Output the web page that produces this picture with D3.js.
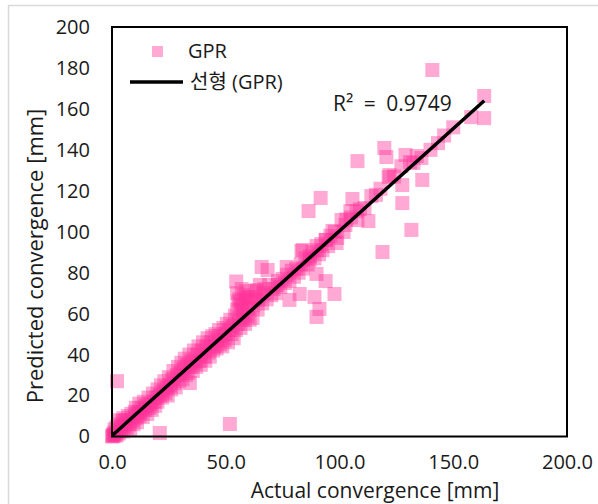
<!DOCTYPE html>
<html>
<head>
<meta charset="utf-8">
<script src="https://cdn.jsdelivr.net/npm/d3@7"></script>
<style>
  body { margin: 0; background: #fff; }
  svg { display: block; }
  text { font-family: "Open Sans", "Noto Sans CJK KR", sans-serif; fill: #1a1a1a; }
</style>
</head>
<body>
<svg id="chart" width="598" height="504"></svg>
<script>
// Tick values for both axes.
var xTicks = [0, 50, 100, 150, 200];
var yTicks = [0, 20, 40, 60, 80, 100, 120, 140, 160, 180, 200];

// Linear trend of GPR (Excel "선형") and its R².
var trendSlope = 1.0,
    trendIntercept = 0.4,
    trendRange = [0, 163.6],
    rSquared = '0.9749';

var legendLabels = ['GPR', '선형 (GPR)'];

// [actual, predicted] in mm.
var gprOutliers = [
    [2.2, 27], [21, 1.7], [51.8, 6.1], [34.2, 26.1], [140.8, 179]
];

var gprUpper = [
    [163.6, 166.3], [163.6, 155.5], [157.9, 156], [143.3, 143.3], [140, 140],
    [119.7, 140.9], [107.9, 134.5], [120.6, 136.5], [129, 137.5], [132.5, 133.6],
    [136, 136], [127.2, 132], [122, 127.7], [121.6, 126.7], [127.6, 122.8],
    [136.4, 125.3], [91.7, 116.5], [105.7, 116], [114, 117.4], [127.6, 114],
    [104.8, 110.1], [107.5, 110], [111, 111.6], [112.7, 105.2], [107.9, 105.7],
    [102.6, 103.3], [101.8, 99.9], [131.6, 100.9], [118.9, 90.1], [98.7, 94.5],
    [86.4, 110.1], [100.9, 105.7], [96.9, 100.4], [93.9, 96], [89.9, 93],
    [83.8, 91.1], [92.5, 91], [83.3, 90.6], [86.8, 86.2], [76.8, 82.8],
    [68.4, 81.3], [65.8, 82.8], [89.9, 79.4], [93.9, 75.9], [97.8, 69.6],
    [89, 68.1], [82.5, 69.6], [78, 66.7], [91.2, 62.3], [89.9, 58.4],
    [72.8, 74], [63.6, 71.5], [62.7, 66.7], [61.8, 57.9], [54.6, 75.7],
    [76, 75], [77, 79], [78, 76], [79, 81], [80, 78], [81, 82], [82, 80],
    [83, 84], [84, 82], [85, 87], [86, 84], [87, 88], [88, 90], [89, 87],
    [90, 91], [91, 89], [92, 94], [94, 96], [95, 93], [96, 98], [98, 100],
    [99, 97], [103, 106], [105, 107], [109, 111], [116, 118], [118, 121],
    [124, 127], [131, 134], [134, 137], [146, 147], [150, 151]
];

var gprBand = [
    [0, 0], [0.3, 0.5], [0.5, 1], [0.8, 0.2], [1, 2], [1.2, 3.5], [1.5, 1],
    [2, 4.5], [2, 0.5], [2.5, 2.5], [3, 6], [3, 1.5], [3.5, 8], [4, 3],
    [4, 5], [4.5, 7.5], [5, 2.5], [5, 9], [5.5, 5], [6, 8], [6.5, 4],
    [7, 10], [7.5, 6], [8, 3.5], [8.5, 11], [9, 8], [9.5, 6], [10, 12],
    [10.5, 9], [11, 7], [10.5, 14], [11.5, 12], [12, 16], [12, 10],
    [12.5, 11.5], [13, 14], [13.5, 9.5], [14, 17], [14.5, 13], [15, 15],
    [15.5, 11], [16, 19], [16.5, 14], [17, 16], [17.5, 13], [18, 21],
    [18.5, 17], [19, 15], [19.5, 19], [20, 23], [20, 17], [21, 20],
    [21.5, 25], [22, 19], [22.5, 22], [23, 27], [23.5, 21], [24, 24],
    [24.5, 20], [25, 29], [25.5, 25], [26, 23], [26.5, 28], [27, 32],
    [27.5, 26], [28, 24], [28.5, 30], [29, 34], [29.5, 27], [30, 31],
    [30.5, 36], [31, 28], [31.5, 33], [32, 38], [32.5, 30], [33, 35],
    [33.5, 31], [34, 40], [34.5, 34], [35, 37], [35.5, 32], [36, 42],
    [36.5, 36], [37, 34], [37.5, 40], [38, 44], [38.5, 37], [39, 35],
    [39.5, 42], [40, 46], [40.5, 39], [41, 37], [41.5, 44], [42, 48],
    [42.5, 41], [43, 39], [43.5, 46], [44, 49], [44.5, 42], [45, 44],
    [45.5, 50], [46, 43], [46.5, 47], [47, 52], [47.5, 45], [48, 49],
    [48.5, 44], [49, 53], [49.5, 47], [50, 50], [50.5, 55], [51, 46],
    [51.5, 52], [52, 57], [52.5, 50], [53, 54], [53.5, 48], [54, 59],
    [54.5, 52], [55, 62], [55.5, 55], [56, 58], [56.5, 53], [57, 64],
    [57.5, 57], [58, 60], [58.5, 55], [59, 66], [59.5, 59], [60, 63],
    [60.5, 57], [55, 70], [56, 67], [57, 72], [58, 69], [56.5, 65],
    [59, 71], [60, 68], [57.5, 62], [55.5, 66], [61, 68], [62, 64],
    [63, 71], [64, 62], [64.5, 67], [65, 74], [66, 65], [66.5, 70],
    [67, 72], [68, 67], [69, 74], [70, 69], [71, 72], [72, 70], [73, 76],
    [74, 73], [75, 77]
];

var gprPoints = gprBand.concat(gprUpper, gprOutliers);

var svg = d3.select('#chart'),
    plot = { left: 112, top: 27, right: 567, bottom: 436.5 },
    markerSize = 14;

var x = d3.scaleLinear().domain([0, 200]).range([plot.left, plot.right]);
var y = d3.scaleLinear().domain([0, 200]).range([plot.bottom, plot.top]);

// Outer chart frame (only the top and left edges fall inside the picture).
svg.append('rect')
    .attr('x', 8.5).attr('y', 5.5)
    .attr('width', 620).attr('height', 520)
    .attr('fill', 'none')
    .attr('stroke', '#d9d9d9')
    .attr('stroke-width', 1.5);

// Points.
svg.append('g')
    .selectAll('rect')
    .data(gprPoints)
    .join('rect')
    .attr('x', d => x(d[0]) - markerSize / 2)
    .attr('y', d => y(d[1]) - markerSize / 2)
    .attr('width', markerSize)
    .attr('height', markerSize)
    .attr('fill', '#ff3399')
    .attr('fill-opacity', 0.42);

// Trend line.
svg.append('line')
    .attr('x1', x(trendRange[0]))
    .attr('y1', y(trendSlope * trendRange[0] + trendIntercept))
    .attr('x2', x(trendRange[1]))
    .attr('y2', y(trendSlope * trendRange[1] + trendIntercept))
    .attr('stroke', '#000')
    .attr('stroke-width', 3.5);

// Plot border.
svg.append('rect')
    .attr('x', plot.left).attr('y', plot.top)
    .attr('width', plot.right - plot.left)
    .attr('height', plot.bottom - plot.top)
    .attr('fill', 'none')
    .attr('stroke', '#000')
    .attr('stroke-width', 2);

// Axes: labels only, no tick marks or domain line.
var xAxis = svg.append('g')
    .attr('transform', 'translate(0,' + plot.bottom + ')')
    .call(d3.axisBottom(x).tickValues(xTicks).tickSize(0).tickPadding(18).tickFormat(d3.format('.1f')));
var yAxis = svg.append('g')
    .attr('transform', 'translate(' + plot.left + ',0)')
    .call(d3.axisLeft(y).tickValues(yTicks).tickSize(0).tickPadding(22));
[xAxis, yAxis].forEach(function (ax) {
    ax.select('.domain').remove();
    ax.selectAll('text')
        .attr('font-family', '"Open Sans", "Noto Sans CJK KR", sans-serif')
        .attr('font-size', 20)
        .attr('fill', '#1a1a1a');
});

// Axis titles.
svg.append('text')
    .attr('x', 375).attr('y', 498)
    .attr('text-anchor', 'middle')
    .attr('font-size', 21)
    .text('Actual convergence [mm]');
svg.append('text')
    .attr('transform', 'translate(43,256) rotate(-90)')
    .attr('text-anchor', 'middle')
    .attr('font-size', 22)
    .text('Predicted convergence [mm]');

// Legend.
svg.append('rect')
    .attr('x', 152).attr('y', 46)
    .attr('width', 11).attr('height', 11)
    .attr('fill', '#ff3399')
    .attr('fill-opacity', 0.42);
svg.append('text').attr('x', 188).attr('y', 58).attr('font-size', 20).text(legendLabels[0]);
svg.append('line')
    .attr('x1', 130).attr('x2', 183).attr('y1', 82).attr('y2', 82)
    .attr('stroke', '#000').attr('stroke-width', 3.5);
svg.append('text').attr('x', 190).attr('y', 89).attr('font-size', 20).text(legendLabels[1]);

// R² label.
svg.append('text')
    .attr('x', 333).attr('y', 111)
    .attr('font-size', 21)
    .attr('word-spacing', 5)
    .text('R² = ' + rSquared);
</script>
</body>
</html>
